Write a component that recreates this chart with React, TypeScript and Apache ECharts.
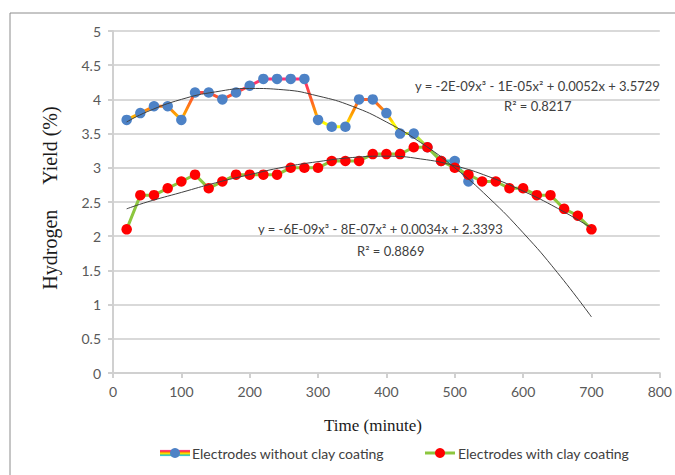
import React, { useEffect, useRef } from "react";
import * as echarts from "echarts";

// ---- data ----
const timeWithout = [20, 40, 60, 80, 100, 120, 140, 160, 180, 200, 220, 240, 260, 280, 300, 320, 340, 360, 380, 400, 420, 440, 460, 480, 500, 520];
const yieldWithout = [3.7, 3.8, 3.9, 3.9, 3.7, 4.1, 4.1, 4.0, 4.1, 4.2, 4.3, 4.3, 4.3, 4.3, 3.7, 3.6, 3.6, 4.0, 4.0, 3.8, 3.5, 3.5, 3.3, 3.1, 3.1, 2.8];

const timeWith = [20, 40, 60, 80, 100, 120, 140, 160, 180, 200, 220, 240, 260, 280, 300, 320, 340, 360, 380, 400, 420, 440, 460, 480, 500, 520, 540, 560, 580, 600, 620, 640, 660, 680, 700];
const yieldWith = [2.1, 2.6, 2.6, 2.7, 2.8, 2.9, 2.7, 2.8, 2.9, 2.9, 2.9, 2.9, 3.0, 3.0, 3.0, 3.1, 3.1, 3.1, 3.2, 3.2, 3.2, 3.3, 3.3, 3.1, 3.0, 2.9, 2.8, 2.8, 2.7, 2.7, 2.6, 2.6, 2.4, 2.3, 2.1];

const trendTime = [20, 50, 100, 150, 200, 250, 300, 350, 400, 450, 500, 550, 600, 650, 700];
const trendWithout = [3.67, 3.82, 4.0, 4.11, 4.16, 4.14, 4.05, 3.9, 3.67, 3.37, 3.0, 2.56, 2.05, 1.47, 0.82];
const trendWith = [2.4, 2.5, 2.64, 2.78, 2.9, 3.01, 3.09, 3.15, 3.17, 3.13, 3.03, 2.87, 2.66, 2.41, 2.12];

const seriesNames = ["Electrodes without clay coating", "Electrodes with clay coating"];
const equations = [
  "y = -2E-09x\u00b3 - 1E-05x\u00b2 + 0.0052x + 3.5729",
  "R\u00b2 = 0.8217",
  "y = -6E-09x\u00b3 - 8E-07x\u00b2 + 0.0034x + 2.3393",
  "R\u00b2 = 0.8869",
];
const xTitle = "Time (minute)";
const yTitle = "Hydrogen\u00a0\u00a0\u00a0\u00a0\u00a0Yield (%)";
const xRange = { min: 0, max: 800, interval: 100 };
const yRange = { min: 0, max: 5, interval: 0.5 };

const rainbow = ["#ff3d80", "#ff4040", "#ff9a00", "#ffe000", "#8fd14f", "#3cc8c8"];
const lineStops = [
  { offset: 0, color: "#ff2f7a" },
  { offset: 0.067, color: "#ff3a5a" },
  { offset: 0.133, color: "#ff4a3a" },
  { offset: 0.233, color: "#ff6a20" },
  { offset: 0.333, color: "#ff9a00" },
  { offset: 0.4, color: "#ffc800" },
  { offset: 0.433, color: "#ffff00" },
  { offset: 0.5, color: "#f0f020" },
  { offset: 0.567, color: "#c8e83a" },
  { offset: 0.667, color: "#7ed24e" },
  { offset: 0.8, color: "#2fc6c6" },
  { offset: 1, color: "#3a8fd8" },
];

const zip = (xs: number[], ys: number[]) => xs.map((x, i) => [x, ys[i]]);

const SANS = "Lato, 'Liberation Sans', sans-serif";
const SERIF = "'Liberation Serif', 'Times New Roman', serif";

export default function App() {
  const ref = useRef<HTMLDivElement>(null);
  useEffect(() => {
    if (!ref.current) return;
    const chart = echarts.init(ref.current, undefined, { renderer: "svg" });
    const legendY = 453;
    const graphic: any[] = [
      { type: "rect", shape: { x: 10, y: 13, width: 700, height: 500 }, style: { fill: "none", stroke: "#8c8c8c", lineWidth: 1 }, z: 0, silent: true },
      { type: "text", x: 373, y: 425, style: { text: xTitle, font: `17px ${SERIF}`, fill: "#1a1a1a", align: "center", verticalAlign: "middle" } },
      { type: "text", x: 50, y: 198, rotation: Math.PI / 2, style: { text: yTitle, font: `20px ${SERIF}`, fill: "#1a1a1a", align: "center", verticalAlign: "middle" } },
      { type: "text", x: 415, y: 86, style: { text: equations[0], font: `13px ${SANS}`, fill: "#404040", align: "left", verticalAlign: "middle" } },
      { type: "text", x: 504, y: 106, style: { text: equations[1], font: `13px ${SANS}`, fill: "#404040", align: "left", verticalAlign: "middle" } },
      { type: "text", x: 258, y: 229, style: { text: equations[2], font: `13px ${SANS}`, fill: "#404040", align: "left", verticalAlign: "middle" } },
      { type: "text", x: 357, y: 251, style: { text: equations[3], font: `13px ${SANS}`, fill: "#404040", align: "left", verticalAlign: "middle" } },
    ];
    rainbow.forEach((c, i) => {
      graphic.push({ type: "line", shape: { x1: 160, y1: legendY - 2.5 + i, x2: 190, y2: legendY - 2.5 + i }, style: { stroke: c, lineWidth: 1.2 } });
    });
    graphic.push({ type: "circle", shape: { cx: 175, cy: legendY, r: 5 }, style: { fill: "#4d82c6" } });
    graphic.push({ type: "text", x: 192, y: legendY, style: { text: seriesNames[0], font: `14px ${SANS}`, fill: "#404040", verticalAlign: "middle" } });
    graphic.push({ type: "line", shape: { x1: 425, y1: legendY, x2: 455, y2: legendY }, style: { stroke: "#8cc63e", lineWidth: 3 } });
    graphic.push({ type: "circle", shape: { cx: 440, cy: legendY, r: 5 }, style: { fill: "#ff0000" } });
    graphic.push({ type: "text", x: 458, y: legendY, style: { text: seriesNames[1], font: `14px ${SANS}`, fill: "#404040", verticalAlign: "middle" } });

    const axisColor = "#d0d0d0";
    chart.setOption({
      animation: false,
      backgroundColor: "#ffffff",
      grid: { left: 113, right: 15, top: 31, bottom: 102, containLabel: false },
      xAxis: {
        type: "value",
        min: xRange.min,
        max: xRange.max,
        interval: xRange.interval,
        axisLine: { show: true, lineStyle: { color: axisColor, width: 2 } },
        axisTick: { show: true, length: 5, lineStyle: { color: axisColor, width: 2 } },
        splitLine: { show: false },
        axisLabel: { color: "#595959", fontSize: 14, fontFamily: SANS, margin: 11 },
      },
      yAxis: {
        type: "value",
        min: yRange.min,
        max: yRange.max,
        interval: yRange.interval,
        axisLine: { show: true, lineStyle: { color: axisColor, width: 2 } },
        axisTick: { show: true, length: 5, lineStyle: { color: axisColor, width: 2 } },
        splitLine: { show: true, lineStyle: { color: "#d9d9d9", width: 2 } },
        axisLabel: { color: "#595959", fontSize: 14, fontFamily: SANS, margin: 12 },
      },
      series: [
        {
          name: seriesNames[0],
          type: "line",
          data: zip(timeWithout, yieldWithout),
          symbol: "circle",
          symbolSize: 10.5,
          showSymbol: true,
          itemStyle: { color: "#4d82c6" },
          lineStyle: { color: "#ff9400", width: 3 },
          z: 2,
        },
        {
          name: seriesNames[1],
          type: "line",
          data: zip(timeWith, yieldWith),
          symbol: "circle",
          symbolSize: 10.5,
          itemStyle: { color: "#ff0000" },
          lineStyle: { color: "#8cc63e", width: 3 },
          z: 3,
        },
        {
          name: "trend1",
          type: "line",
          data: zip(trendTime, trendWithout),
          showSymbol: false,
          smooth: true,
          silent: true,
          lineStyle: { color: "#404040", width: 1 },
          z: 4,
        },
        {
          name: "trend2",
          type: "line",
          data: zip(trendTime, trendWith),
          showSymbol: false,
          smooth: true,
          silent: true,
          lineStyle: { color: "#404040", width: 1 },
          z: 4,
        },
      ],
      graphic,
    });
    // gradient along the value axis, positioned through the chart's own scale
    const top = chart.convertToPixel({ gridIndex: 0 }, [0, Math.max(...yieldWithout)]) as number[];
    const bottom = chart.convertToPixel({ gridIndex: 0 }, [0, Math.min(...yieldWithout)]) as number[];
    chart.setOption({
      series: [
        {
          name: seriesNames[0],
          lineStyle: {
            color: { type: "linear", x: 0, y: top[1], x2: 0, y2: bottom[1], global: true, colorStops: lineStops },
          },
        },
      ],
    });
    return () => chart.dispose();
  }, []);
  return (
    <div
      ref={ref}
      style={{ position: "fixed", left: 0, top: 0, width: 675, height: 475, background: "#fff" }}
    />
  );
}
